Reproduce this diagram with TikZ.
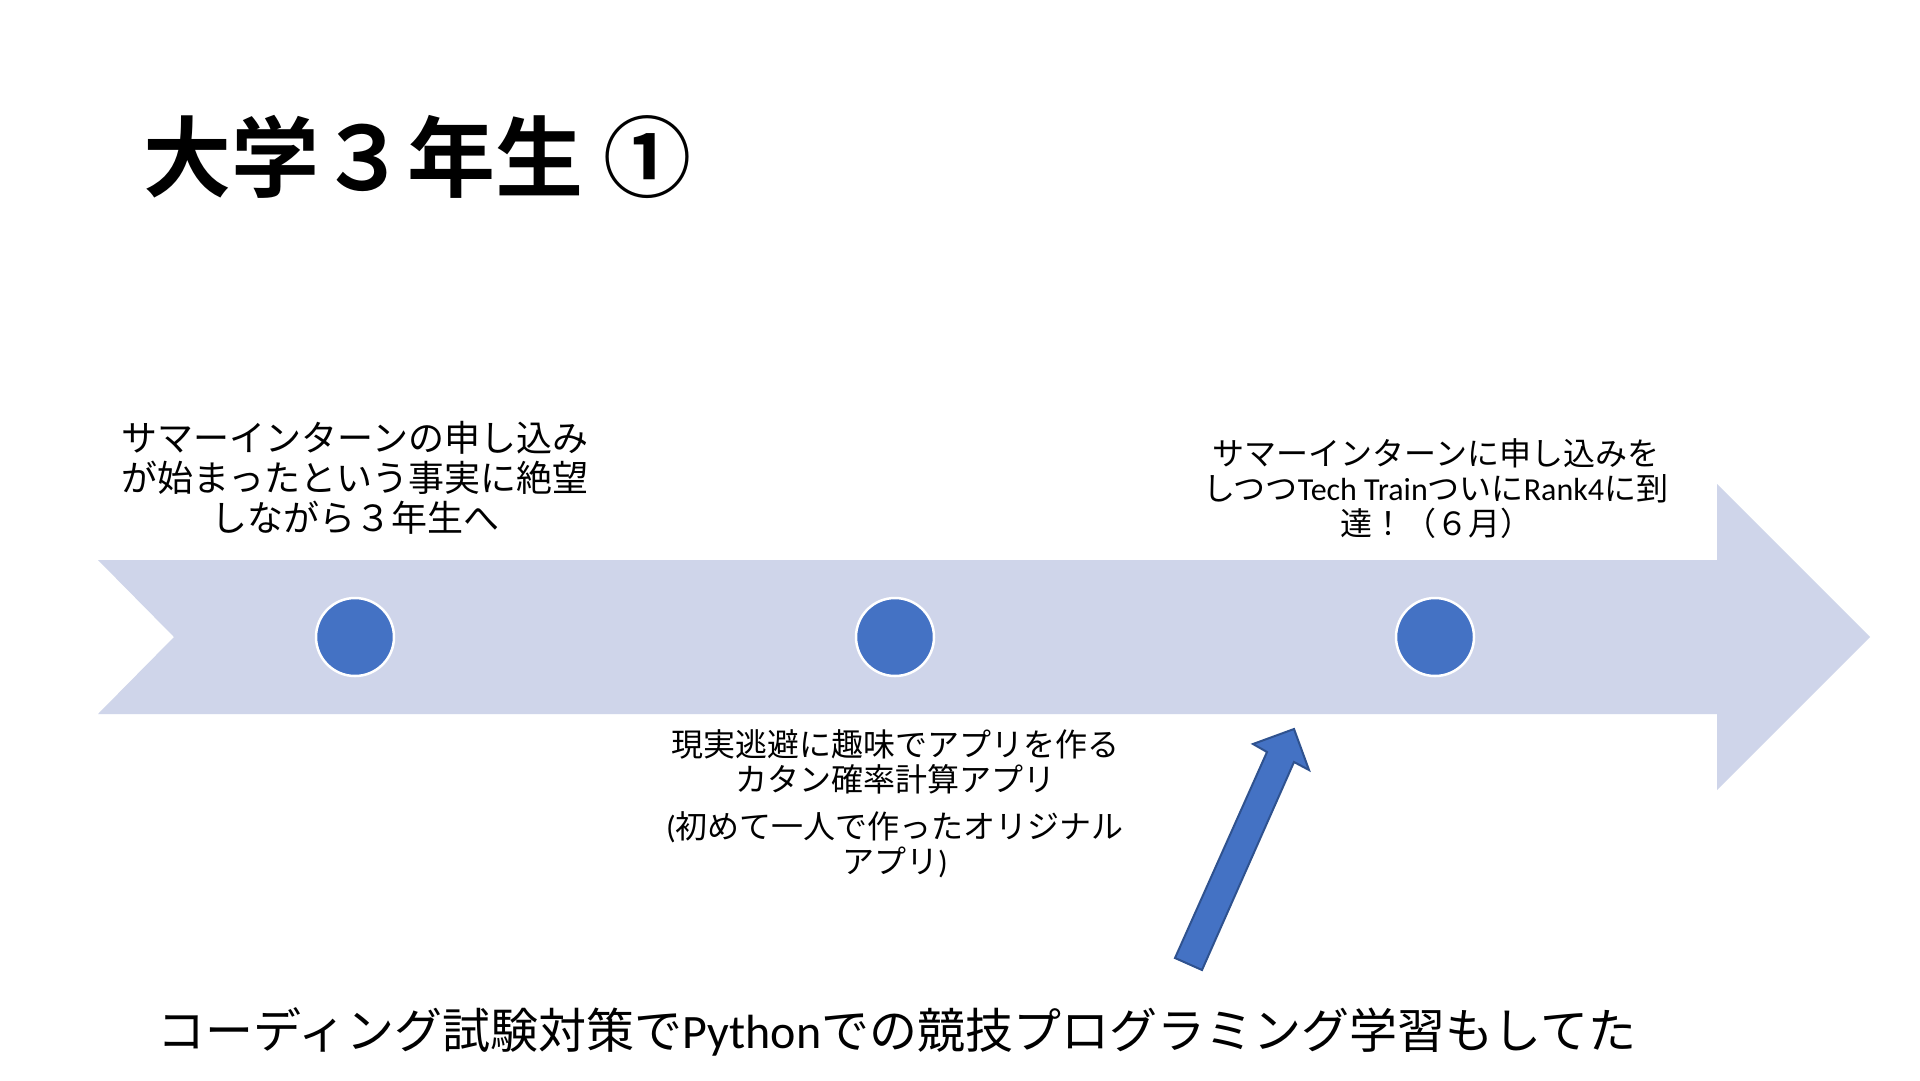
\documentclass[tikz,border=0pt]{standalone}
\usepackage{fontspec}
\newfontfamily\jp{Noto Sans CJK JP}
\newfontfamily\jpb{Noto Sans CJK JP Bold}
\newfontfamily\lat{Carlito}
\definecolor{band}{HTML}{CFD5EA}
\definecolor{dot}{HTML}{4472C4}
\definecolor{dotline}{HTML}{2F528F}
\tikzset{
  dotnode/.style={circle,fill=dot,draw=white,line width=2.5pt,minimum size=78pt,inner sep=0pt},
  lbl/.style={inner sep=0pt,align=center,text=black},
}
\begin{document}
\begin{tikzpicture}[x=1pt,y=-1pt]
\useasboundingbox (0,0) rectangle (1920,1080);
\fill[white] (0,0) rectangle (1920,1080);
% timeline band arrow
\fill[band] (98,560) -- (1717,560) -- (1717,484) -- (1870,637) -- (1717,790) -- (1717,714) -- (98,714) -- (174,637) -- cycle;
% dots
\node[dotnode] (c1) at (355,637) {};
\node[dotnode] (c2) at (895,637) {};
\node[dotnode] (c3) at (1435,637) {};
% title
\node[lbl,anchor=west,font={\fontsize{88}{100}\selectfont\jpb}] (title) at (143,157) {大学３年生 ①};
% labels
\node[lbl,font={\fontsize{36}{40}\selectfont\jp}] (l1) at (355,478) {サマーインターンの申し込み\\が始まったという事実に絶望\\しながら３年生へ};
\node[lbl,font={\fontsize{32}{35}\selectfont\jp}] (l3) at (1436,489) {サマーインターンに申し込みを\\しつつ{\lat\fontsize{32}{35}\selectfont Tech Train}ついに{\lat\fontsize{32}{35}\selectfont Rank4}に到\\達！（６月）};
\node[lbl,font={\fontsize{32}{35}\selectfont\jp}] (l2) at (895,804) {現実逃避に趣味でアプリを作る\\カタン確率計算アプリ\\[12pt]{\lat\fontsize{32}{35}\selectfont(}初めて一人で作ったオリジナル\\アプリ{\lat\fontsize{32}{35}\selectfont)}};
\node[lbl,font={\fontsize{48}{56}\selectfont\jp}] (bottom) at (897,1032) {コーディング試験対策で{\lat\fontsize{48}{56}\selectfont Python}での競技プログラミング学習もしてた};
% small block arrow
\filldraw[fill=dot,draw=dotline,line width=2pt,line join=miter] (1175,958) -- (1202,970) -- (1294,762) -- (1309,770) -- (1294,729) -- (1253,744) -- (1267,752) -- cycle;
\end{tikzpicture}
\end{document}
